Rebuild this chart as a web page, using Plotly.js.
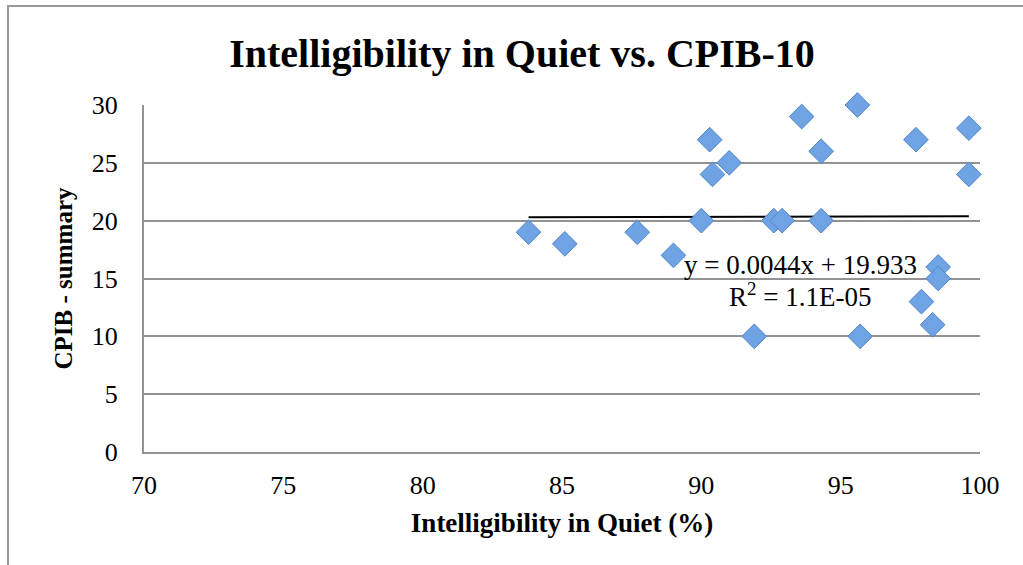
<!DOCTYPE html>
<html>
<head>
<meta charset="utf-8">
<script src="https://cdn.plot.ly/plotly-3.0.1.min.js"></script>
<style>
  html, body { margin: 0; padding: 0; background: #ffffff; }
  #chart { position: absolute; left: 0; top: 0; width: 1023px; height: 565px; }
  #frame { position: absolute; left: 7px; top: 5px; width: 1016px; height: 560px;
           border-left: 2px solid #9a9a9a; border-top: 2px solid #9a9a9a;
           box-sizing: border-box; pointer-events: none; }
</style>
</head>
<body>
<div id="chart"></div>
<div id="frame"></div>
<script>
// Intelligibility in Quiet (%) vs CPIB-10 summary score
const intelligibility = [83.8, 85.1, 87.7, 89.0, 90.0, 90.3, 90.4, 91.0, 92.6, 92.9,
                         93.6, 94.3, 94.3, 95.6, 97.7, 99.6, 99.6, 91.9, 95.7, 98.5,
                         98.5, 97.9, 98.3];
const cpibSummary     = [19, 18, 19, 17, 20, 27, 24, 25, 20, 20,
                         29, 26, 20, 30, 27, 28, 24, 10, 10, 16,
                         15, 13, 11];

// Linear trendline reported on the chart
const trendSlope = 0.0044;
const trendIntercept = 19.933;
const trendLabel = "y = 0.0044x + 19.933";
const r2Label = "R<sup>2</sup> = 1.1E-05";

const xTicks = [70, 75, 80, 85, 90, 95, 100];
const yTicks = [0, 5, 10, 15, 20, 25, 30];

const xMin = Math.min(...intelligibility);
const xMax = Math.max(...intelligibility);
const trendX = [xMin, xMax];
const trendY = trendX.map(v => trendSlope * v + trendIntercept);

const serif = "'Liberation Serif', 'Times New Roman', serif";

const traces = [
  {
    x: trendX, y: trendY,
    type: "scatter", mode: "lines",
    line: { color: "#000000", width: 2 },
    showlegend: false, hoverinfo: "skip"
  },
  {
    x: intelligibility, y: cpibSummary,
    type: "scatter", mode: "markers", cliponaxis: false,
    marker: { symbol: "diamond", size: 19, color: "#6fa3e3",
              line: { color: "#4f86c8", width: 1 } },
    showlegend: false, hoverinfo: "x+y"
  }
];

const layout = {
  width: 1023, height: 565,
  margin: { l: 144, r: 43, t: 105, b: 113, pad: 0 },
  paper_bgcolor: "rgba(0,0,0,0)",
  plot_bgcolor: "#ffffff",
  font: { family: serif, color: "#000000" },
  title: {
    text: "<b>Intelligibility in Quiet vs. CPIB-10</b>",
    font: { family: serif, size: 40, color: "#000000" },
    x: 522 / 1023, xanchor: "center", xref: "container",
    y: 1 - 53 / 565, yanchor: "middle", yref: "container"
  },
  xaxis: {
    range: [70, 100], tickvals: xTicks, ticktext: xTicks.map(String),
    showgrid: false, zeroline: false,
    showline: true, linecolor: "#929292", linewidth: 2,
    ticks: "", ticklabelstandoff: 9,
    tickfont: { family: serif, size: 26, color: "#000000" },
    title: { text: "<b>Intelligibility in Quiet (%)</b>", standoff: 14,
             font: { family: serif, size: 27, color: "#000000" } },
    fixedrange: true
  },
  yaxis: {
    range: [0, 30], tickvals: yTicks, ticktext: yTicks.map(String),
    showgrid: true, gridcolor: "#929292", gridwidth: 2,
    zeroline: false,
    showline: true, linecolor: "#929292", linewidth: 2,
    ticks: "", ticklabelstandoff: 19,
    tickfont: { family: serif, size: 26, color: "#000000" },
    title: { text: "<b>CPIB - summary</b>", standoff: 12,
             font: { family: serif, size: 25, color: "#000000" } },
    fixedrange: true
  },
  annotations: [
    { x: 93.55, y: 16.2, xref: "x", yref: "y", text: trendLabel, showarrow: false,
      xanchor: "center", yanchor: "middle",
      font: { family: serif, size: 27, color: "#000000" } },
    { x: 93.55, y: 13.6, xref: "x", yref: "y", text: r2Label, showarrow: false,
      xanchor: "center", yanchor: "middle",
      font: { family: serif, size: 27, color: "#000000" } }
  ]
};

Plotly.newPlot("chart", traces, layout, { displayModeBar: false, staticPlot: true });
</script>
</body>
</html>
